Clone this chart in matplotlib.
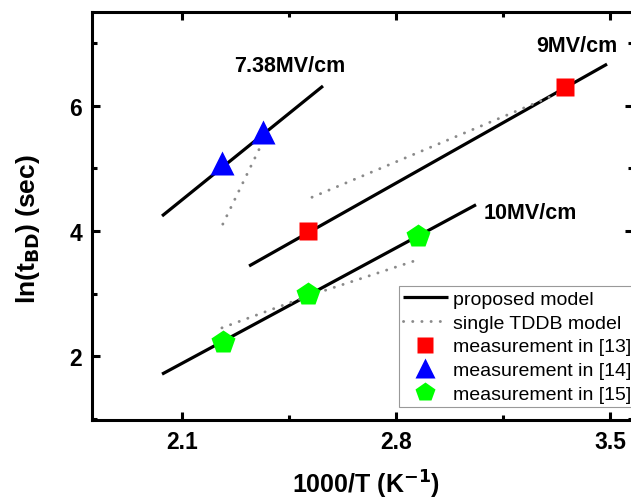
import matplotlib
matplotlib.use("Agg")
import matplotlib.pyplot as plt
from matplotlib.ticker import MultipleLocator

plt.rcParams['font.family'] = ['Liberation Sans', 'DejaVu Sans']

# proposed model lines (x = 1000/T, y = ln(tBD))
model_738_x = [2.033, 2.560]
model_738_y = [4.24, 6.32]
model_9_x = [2.318, 3.490]
model_9_y = [3.44, 6.67]
model_10_x = [2.033, 3.061]
model_10_y = [1.71, 4.42]

# single TDDB model lines
single_738_x = [2.232, 2.364]
single_738_y = [4.11, 5.44]
single_9_x = [2.524, 3.330]
single_9_y = [4.54, 6.20]
single_10_x = [2.229, 2.511, 2.871]
single_10_y = [2.45, 2.96, 3.54]

# measurements
meas13_x = [2.511, 3.352]
meas13_y = [4.00, 6.30]
meas14_x = [2.229, 2.364]
meas14_y = [5.09, 5.58]
meas15_x = [2.233, 2.511, 2.871]
meas15_y = [2.22, 2.99, 3.92]

field_labels = ["7.38MV/cm", "9MV/cm", "10MV/cm"]

W, H = 631, 502
fig = plt.figure(figsize=(W / 100, H / 100), dpi=100)
ax = fig.add_axes([92 / W, 1 - 421 / H, (633 - 92) / W, (421 - 13) / H])

lw_m = 2.3
dot_kw = dict(color='#8a8a8a', lw=2.1, linestyle=(0, (0.05, 3.1)), dash_capstyle='round')

ax.plot(model_738_x, model_738_y, color='black', lw=lw_m, solid_capstyle='butt', label='proposed model')
ax.plot(model_9_x, model_9_y, color='black', lw=lw_m, solid_capstyle='butt')
ax.plot(model_10_x, model_10_y, color='black', lw=lw_m, solid_capstyle='butt')

ax.plot(single_738_x, single_738_y, label='single TDDB model', **dot_kw)
ax.plot(single_9_x, single_9_y, **dot_kw)
ax.plot(single_10_x, single_10_y, **dot_kw)

ax.plot(meas13_x, meas13_y, 's', color='#ff0000', ms=13.5, mec='none', label='measurement in [13]')
ax.plot(meas14_x, meas14_y, '^', color='#0000ff', ms=17, mec='none', label='measurement in [14]')
ax.plot(meas15_x, meas15_y, 'p', color='#00ff00', ms=17.5, mec='none', label='measurement in [15]')

ax.text(2.452, 6.64, field_labels[0], fontsize=15.5, fontweight='bold', ha='center', va='center')
ax.text(3.392, 6.96, field_labels[1], fontsize=15.5, fontweight='bold', ha='center', va='center')
ax.text(3.238, 4.30, field_labels[2], fontsize=15.5, fontweight='bold', ha='center', va='center')

ax.set_xlim(1.8037, 3.575)
ax.set_ylim(0.976, 7.504)
ax.xaxis.set_minor_locator(MultipleLocator(0.35))
ax.yaxis.set_minor_locator(MultipleLocator(1))
ax.set_xticks([2.1, 2.8, 3.5])
ax.set_xticklabels(['2.1', '2.8', '3.5'])
ax.set_yticks([2, 4, 6])
ax.set_yticklabels(['2', '4', '6'])

for s in ax.spines.values():
    s.set_linewidth(2.2)
ax.tick_params(which='both', direction='in', top=True, right=True, width=2.2)
ax.tick_params(which='major', length=6, labelsize=16.5, pad=7)
ax.tick_params(which='minor', length=3.5)
for lab in ax.get_xticklabels() + ax.get_yticklabels():
    lab.set_fontweight('bold')

fig.text(366 / W, 1 - 485 / H, '1000/T (K$^{\\mathbf{-1}}$)', fontsize=18, fontweight='bold',
         ha='center', va='center')
fig.text(28 / W, 1 - 229 / H, 'ln(t$_{\\mathbf{BD}}$) (sec)', fontsize=19, fontweight='bold',
         rotation=90, ha='center', va='center')

leg = ax.legend(loc='lower left', bbox_to_anchor=((399 - 92) / 541, (421 - 408) / 408),
                borderaxespad=0, fontsize=14, handlelength=2.3, handletextpad=0.3,
                labelspacing=0.32, borderpad=0.2, markerscale=0.85, fancybox=False,
                framealpha=1)
leg.get_frame().set_edgecolor('#999999')
leg.get_frame().set_linewidth(0.8)

fig.savefig('out.png', dpi=100)
